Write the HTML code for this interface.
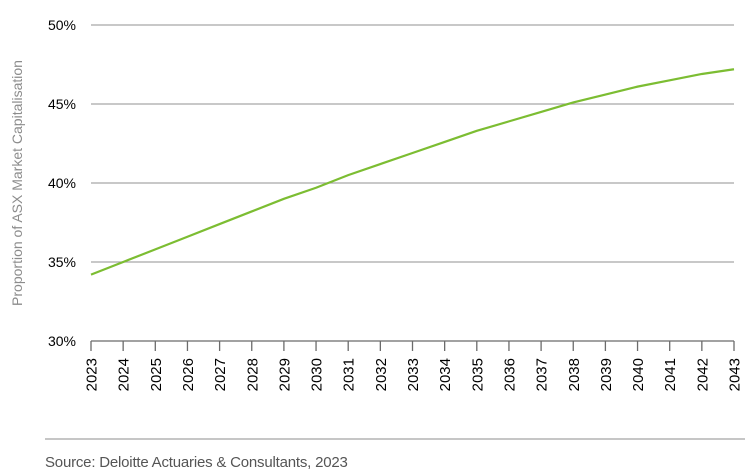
<!DOCTYPE html>
<html><head><meta charset="utf-8"><style>
body{margin:0;background:#fff;}
svg{display:block;}
</style></head><body>
<svg width="750" height="473" xmlns="http://www.w3.org/2000/svg" font-family="Liberation Sans, sans-serif">
<g stroke="#a6a6a6" stroke-width="1.3">
<line x1="91" y1="25" x2="734" y2="25"/>
<line x1="91" y1="104" x2="734" y2="104"/>
<line x1="91" y1="183" x2="734" y2="183"/>
<line x1="91" y1="262" x2="734" y2="262"/>
</g>
<g stroke="#6b6b6b" stroke-width="1.3" id="ax"></g>
<g font-size="14" fill="#000" text-anchor="end">
<text x="76" y="30">50%</text>
<text x="76" y="109">45%</text>
<text x="76" y="188">40%</text>
<text x="76" y="267">35%</text>
<text x="76" y="346">30%</text>
</g>
<text transform="translate(22,183) rotate(-90)" text-anchor="middle" font-size="14" fill="#8c8c8c">Proportion of ASX Market Capitalisation</text>
<g id="yr" font-size="15" fill="#000"></g>
<polyline id="ln" fill="none" stroke="#7cbd32" stroke-width="2.2"/>
<line x1="45" y1="439" x2="745" y2="439" stroke="#8c8c8c" stroke-width="1"/>
<text x="45" y="467" font-size="15" fill="#555" letter-spacing="-0.2">Source: Deloitte Actuaries &amp; Consultants, 2023</text>
</svg>
<script>
var ns="http://www.w3.org/2000/svg";
var ax=document.getElementById('ax'),yr=document.getElementById('yr');
function L(a,b,c,d){var l=document.createElementNS(ns,'line');l.setAttribute('x1',a);l.setAttribute('y1',b);l.setAttribute('x2',c);l.setAttribute('y2',d);ax.appendChild(l);}
L(91,341,734,341);
var v=[34.2,35.0,35.8,36.6,37.4,38.2,39.0,39.7,40.5,41.2,41.9,42.6,43.3,43.9,44.5,45.1,45.6,46.1,46.5,46.9,47.2];
var pts=[];
for(var i=0;i<=20;i++){var x=91+i*32.15;L(x,341,x,351);
var t=document.createElementNS(ns,'text');t.setAttribute('transform','translate('+(x+5.5)+',358) rotate(-90)');t.setAttribute('text-anchor','end');t.textContent=2023+i;yr.appendChild(t);
pts.push(x+','+(341-(v[i]-30)*15.8));}
document.getElementById('ln').setAttribute('points',pts.join(' '));
</script>
</body></html>
